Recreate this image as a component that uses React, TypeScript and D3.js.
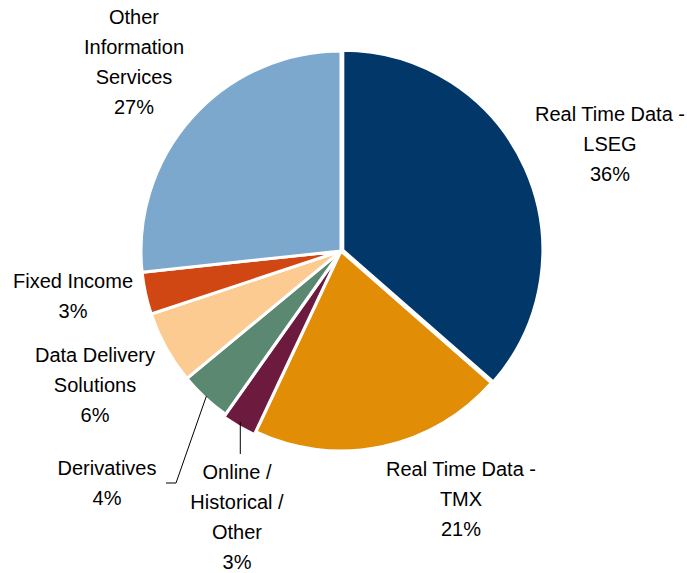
import { useEffect, useRef } from 'react'
import * as d3 from 'd3'

// slice values (percent), clockwise from 12 o'clock
const categories = [
  'Real Time Data - LSEG',
  'Real Time Data - TMX',
  'Online / Historical / Other',
  'Derivatives',
  'Data Delivery Solutions',
  'Fixed Income',
  'Other Information Services',
]
const values = [36.45, 20.55, 2.8, 4.2, 5.9, 3.4, 26.7]
const colors = ['#023869', '#E28D06', '#6C1A3E', '#5A8870', '#FBCB92', '#D04714', '#7DA8CE']
// label lines as drawn in the chart (last line is the percentage)
const labelLines = [
  ['Real Time Data -', 'LSEG'],
  ['Real Time Data -', 'TMX'],
  ['Online /', 'Historical /', 'Other'],
  ['Derivatives'],
  ['Data Delivery', 'Solutions'],
  ['Fixed Income'],
  ['Other', 'Information', 'Services'],
]

// label anchor (center x, first baseline y) offsets from the pie center
const labelPos: [number, number][] = [
  [269, -130],
  [120, 225],
  [-104, 228],
  [-234, 224],
  [-246, 111],
  [-268, 37],
  [-207, -227],
]

function App() {
  const svgRef = useRef<SVGSVGElement | null>(null)

  useEffect(() => {
    if (!svgRef.current) return
    const svg = d3.select(svgRef.current)
    svg.selectAll('*').remove()

    const cx = 341
    const cy = 251
    const radius = 200
    const lineH = 30

    const pie = d3
      .pie<number>()
      .sort(null)
      .value((d) => d)
    const arcs = pie(values)
    const arc = d3.arc<d3.PieArcDatum<number>>().innerRadius(0).outerRadius(radius)

    const g = svg.append('g').attr('transform', `translate(${cx},${cy})`)

    // small explosion for a couple of slices, as in the original
    const explode = [2, 0, 3, 0, 0, 0, 0]

    g.selectAll('path.slice')
      .data(arcs)
      .enter()
      .append('path')
      .attr('class', 'slice')
      .attr('d', (d) => arc(d) || '')
      .attr('fill', (_d, i) => colors[i])
      .attr('stroke', '#fff')
      .attr('stroke-width', 3)
      .attr('stroke-linejoin', 'miter')
      .attr('transform', (d, i) => {
        const a = (d.startAngle + d.endAngle) / 2
        return `translate(${Math.sin(a) * explode[i]},${-Math.cos(a) * explode[i]})`
      })

    // leader lines for the two small slices at the bottom
    const edgePoint = (i: number, r: number) => {
      const a = (arcs[i].startAngle + arcs[i].endAngle) / 2
      return [Math.sin(a) * r, -Math.cos(a) * r]
    }
    const onl = edgePoint(2, radius - 2)
    const der = edgePoint(3, radius - 2)
    const line = d3.line()
    g.append('path')
      .attr('d', line([[onl[0] - 1, onl[1]], [onl[0] - 1, 203]]) || '')
      .attr('fill', 'none')
      .attr('stroke', '#000')
      .attr('stroke-width', 1)
    g.append('path')
      .attr('d', line([[der[0], der[1]], [-165, 232], [-175, 232]]) || '')
      .attr('fill', 'none')
      .attr('stroke', '#000')
      .attr('stroke-width', 1)

    // labels
    arcs.forEach((_d, i) => {
      const lines = [...labelLines[i], `${Math.round(values[i])}%`]
      const t = g
        .append('text')
        .attr('x', labelPos[i][0])
        .attr('y', labelPos[i][1])
        .attr('text-anchor', 'middle')
        .style('font-family', '"Liberation Sans", Arial, sans-serif')
        .style('font-size', '20px')
        .attr('fill', '#000')
      lines.forEach((l, j) => {
        t.append('tspan')
          .attr('x', labelPos[i][0])
          .attr('y', labelPos[i][1] + j * lineH)
          .text(l)
      })
    })
  }, [])

  return (
    <div>
      <style>{`body{margin:0;background:#fff}`}</style>
      <svg ref={svgRef} width={687} height={573} style={{ display: 'block' }}></svg>
    </div>
  )
}

export default App
